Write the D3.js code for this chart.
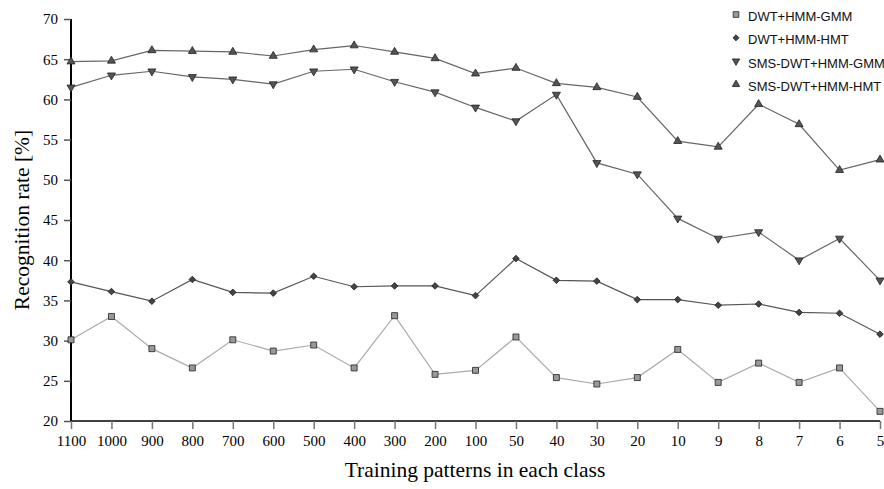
<!DOCTYPE html>
<html><head><meta charset="utf-8">
<script src="https://cdn.jsdelivr.net/npm/d3@7"></script>
<style>body{margin:0;background:#fff;} svg{display:block;}</style>
</head><body>
<svg id="c" width="884" height="489"></svg>
<script>
const categories = ["1100","1000","900","800","700","600","500","400","300","200","100","50","40","30","20","10","9","8","7","6","5"];
const dwtGmm = [30.1,33.0,29.0,26.6,30.1,28.7,29.45,26.6,33.1,25.8,26.3,30.45,25.4,24.6,25.4,28.9,24.8,27.2,24.8,26.6,21.2];
const dwtHmt = [37.3,36.1,34.9,37.6,36.0,35.9,38.0,36.7,36.8,36.8,35.6,40.2,37.5,37.4,35.1,35.1,34.4,34.55,33.5,33.4,30.8];
const smsGmm = [61.5,63.0,63.5,62.8,62.5,61.9,63.5,63.75,62.2,60.9,59.0,57.3,60.6,52.1,50.7,45.2,42.7,43.5,40.0,42.7,37.5];
const smsHmt = [64.7,64.8,66.1,66.0,65.9,65.4,66.2,66.7,65.9,65.1,63.2,63.9,62.0,61.5,60.3,54.8,54.1,59.4,56.9,51.2,52.5];
const yTicks = [20,25,30,35,40,45,50,55,60,65,70];
const seriesNames = ["DWT+HMM-GMM","DWT+HMM-HMT","SMS-DWT+HMM-GMM","SMS-DWT+HMM-HMT"];

const svg = d3.select("#c");
const m = {l:71, r:4, t:19, b:68};
const W = 884, H = 489;
const x = d3.scalePoint().domain(categories).range([m.l, W - m.r]);
const y = d3.scaleLinear().domain([20,70]).range([H - m.b, m.t]);

// axes
const xa = svg.append("g").attr("transform", `translate(0,${H-m.b})`)
  .call(d3.axisBottom(x).tickSize(8).tickPadding(6));
xa.select(".domain").attr("stroke","#000").attr("stroke-width",1.5).attr("d",`M${m.l},0H${W-m.r}`);
xa.selectAll(".tick line").attr("stroke","#777").attr("stroke-width",1.5);
xa.selectAll("text").attr("font-family","'Liberation Serif', serif").attr("font-size",15).attr("fill","#000");

const ya = svg.append("g").attr("transform", `translate(${m.l},0)`)
  .call(d3.axisLeft(y).tickValues(yTicks).tickSize(7).tickPadding(6));
ya.select(".domain").attr("stroke","#000").attr("stroke-width",2).attr("d",`M0,${H-m.b}V${m.t}`);
ya.selectAll(".tick line").attr("stroke","#555").attr("stroke-width",1.5);
ya.selectAll("text").attr("font-family","'Liberation Serif', serif").attr("font-size",15).attr("fill","#000");

svg.append("text").attr("x", 475).attr("y", 477)
  .attr("text-anchor","middle").attr("font-family","'Liberation Serif', serif").attr("font-size",21.5)
  .text("Training patterns in each class");
svg.append("text").attr("transform","translate(29,220) rotate(-90)")
  .attr("text-anchor","middle").attr("font-family","'Liberation Serif', serif").attr("font-size",21.5)
  .text("Recognition rate [%]");

const series = [
  {name:seriesNames[0], data:dwtGmm, line:"#aaa", sym:d3.symbolSquare, size:36, fill:"#999", stroke:"#222", rot:0},
  {name:seriesNames[1], data:dwtHmt, line:"#555", sym:d3.symbolSquare, size:22, fill:"#444", stroke:"#222", rot:45},
  {name:seriesNames[2], data:smsGmm, line:"#666", sym:d3.symbolTriangle, size:28, fill:"#555", stroke:"#222", rot:180},
  {name:seriesNames[3], data:smsHmt, line:"#666", sym:d3.symbolTriangle, size:28, fill:"#555", stroke:"#222", rot:0}
];

const line = d3.line().x((d,i)=>x(categories[i])).y(d=>y(d));
series.forEach(s=>{
  svg.append("path").attr("d", line(s.data)).attr("fill","none").attr("stroke", s.line).attr("stroke-width",1.2);
  svg.append("g").selectAll("path").data(s.data).join("path")
    .attr("d", d3.symbol().type(s.sym).size(s.size))
    .attr("transform",(d,i)=>`translate(${x(categories[i])},${y(d)}) rotate(${s.rot})`)
    .attr("fill", s.fill).attr("stroke", s.stroke).attr("stroke-width",0.8);
});

// legend
const lg = svg.append("g");
series.forEach((s,i)=>{
  const yy = 16.5 + i*23.3;
  lg.append("path").attr("d", d3.symbol().type(s.sym).size(s.size-4))
    .attr("transform",`translate(736,${yy - 2}) rotate(${s.rot})`)
    .attr("fill", s.fill).attr("stroke", s.stroke).attr("stroke-width",0.8);
  lg.append("text").attr("x",748).attr("y",yy+4.5).attr("font-family","'Liberation Sans', Arial, sans-serif")
    .attr("font-size",13).attr("fill","#111").text(s.name);
});
</script>
</body></html>
